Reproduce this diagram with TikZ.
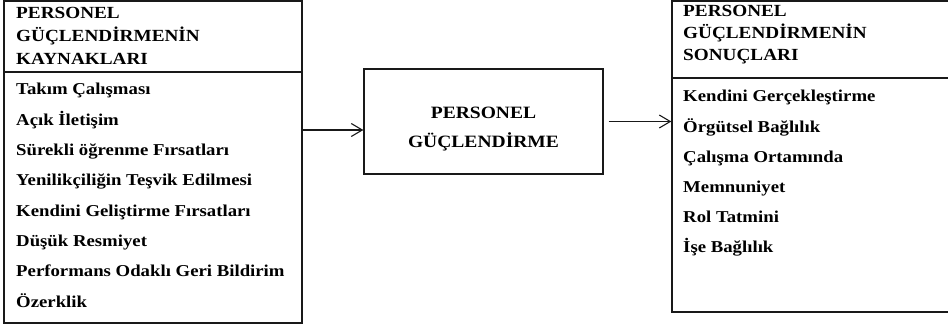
\documentclass[tikz,border=0pt]{standalone}
\usepackage{fontspec}
\setmainfont{Liberation Serif}
\usetikzlibrary{arrows.meta}

\tikzset{
  frame/.style={draw=black!90, line width=1.3pt, rectangle, inner sep=0pt},
  rule/.style={draw=black!90, line width=1.3pt},
  link/.style={draw=black!90, line width=1.1pt, -{Straight Barb[length=11pt,width=13pt,line width=1.1pt]}},
  txt/.style={inner sep=0pt, transform shape, xscale=1.13},
  head/.style={txt, anchor=base west, font=\fontsize{17}{20}\selectfont\bfseries},
  item/.style={txt, anchor=base west, font=\fontsize{16.6}{20}\selectfont\bfseries},
  core/.style={txt, anchor=base, font=\fontsize{17.3}{20}\selectfont\bfseries}
}

\begin{document}
\begin{tikzpicture}[x=1pt, y=-1pt]
  \useasboundingbox (0,0) rectangle (948,329);
  \clip (0,0) rectangle (948,329);

  % sources of empowerment
  \node[frame, minimum width=298pt, minimum height=322pt] (src) at (153,162) {};
  \coordinate (srcL) at (4,72);
  \coordinate (srcR) at (302,72);
  \draw[rule] (srcL) -- (srcR);
  \node[head] (s1) at (16,19) {PERSONEL};
  \node[head] (s2) at (16,42) {GÜÇLENDİRMENİN};
  \node[head] (s3) at (16,65) {KAYNAKLARI};
  \node[item] (a1) at (16,95.0) {Takım Çalışması};
  \node[item] (a2) at (16,125.3) {Açık İletişim};
  \node[item] (a3) at (16,155.6) {Sürekli öğrenme Fırsatları};
  \node[item] (a4) at (16,185.9) {Yenilikçiliğin Teşvik Edilmesi};
  \node[item] (a5) at (16,216.2) {Kendini Geliştirme Fırsatları};
  \node[item] (a6) at (16,246.5) {Düşük Resmiyet};
  \node[item] (a7) at (16,276.8) {Performans Odaklı Geri Bildirim};
  \node[item] (a8) at (16,307.1) {Özerklik};

  % empowerment itself
  \node[frame, minimum width=239pt, minimum height=105pt] (mid) at (483.5,121.5) {};
  \node[core] (m1) at (483.5,118) {PERSONEL};
  \node[core] (m2) at (483.5,147) {GÜÇLENDİRME};

  % outcomes of empowerment
  \node[frame, minimum width=300pt, minimum height=311pt] (res) at (822,156.5) {};
  \coordinate (resL) at (672,78);
  \coordinate (resR) at (972,78);
  \draw[rule] (resL) -- (resR);
  \node[head] (r1) at (683,17) {PERSONEL};
  \node[head] (r2) at (683,39) {GÜÇLENDİRMENİN};
  \node[head] (r3) at (683,60) {SONUÇLARI};
  \node[item] (b1) at (683,102) {Kendini Gerçekleştirme};
  \node[item] (b2) at (683,132) {Örgütsel Bağlılık};
  \node[item] (b3) at (683,162) {Çalışma Ortamında};
  \node[item] (b4) at (683,192) {Memnuniyet};
  \node[item] (b5) at (683,222) {Rol Tatmini};
  \node[item] (b6) at (683,252) {İşe Bağlılık};

  % connectors
  \coordinate (row1) at (0,130);
  \draw[link] (src.east |- row1) -- (mid.west |- row1);
  \draw[link, shorten <=5pt] (mid.east) -- (res.west |- mid.east);
\end{tikzpicture}
\end{document}
